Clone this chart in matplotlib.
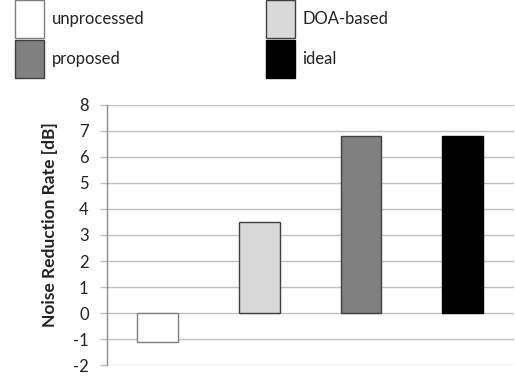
import matplotlib
matplotlib.use("Agg")
import matplotlib.pyplot as plt

methods = ["unprocessed", "DOA-based", "proposed", "ideal"]
nrr_db = [-1.1, 3.5, 6.8, 6.8]
fills = ["#FFFFFF", "#D9D9D9", "#808080", "#000000"]
edges = ["#7F7F7F", "#404040", "#404040", "#000000"]
yticks = list(range(-2, 9))

plt.rcParams["font.family"] = ["Lato", "DejaVu Sans"]

fig = plt.figure(figsize=(5.15, 3.8), dpi=100)
ax = fig.add_axes([0.2072, 0.0387, 0.79, 0.6858])

bars = ax.bar(range(len(methods)), nrr_db, width=0.4, color=fills,
              edgecolor=edges, linewidth=1.0, zorder=3)

ax.set_xlim(-0.5, 3.5)
ax.set_ylim(-2, 8)
ax.set_yticks(yticks)
ax.set_yticklabels([str(t) for t in yticks])
ax.set_xticks([])
ax.yaxis.grid(True, color="#BFBFBF", linewidth=1.0, zorder=0)
ax.tick_params(axis="y", length=5, width=1.0, color="#BFBFBF", pad=8,
               labelsize=12, labelcolor="#222222")
for side in ("top", "right", "bottom"):
    ax.spines[side].set_visible(False)
ax.spines["left"].set_color("#8C8C8C")
ax.spines["left"].set_linewidth(1.0)

ax.set_ylabel("Noise Reduction Rate [dB]", fontsize=12.5, fontweight="bold",
              color="#222222")
ax.yaxis.set_label_coords(-0.12, 0.538)

# legend laid out two per row above the plot
order = [0, 2, 1, 3]
fig.legend([bars[i] for i in order], [methods[i] for i in order],
           loc="upper left", bbox_to_anchor=(0.029, 0.999), ncol=2,
           frameon=False, fontsize=12, handlelength=1.75, handleheight=3.1,
           handletextpad=0.45, columnspacing=7.3, labelspacing=0.12,
           borderaxespad=0.0, borderpad=0.0, labelcolor="#222222")

fig.savefig("out.png", dpi=100)
